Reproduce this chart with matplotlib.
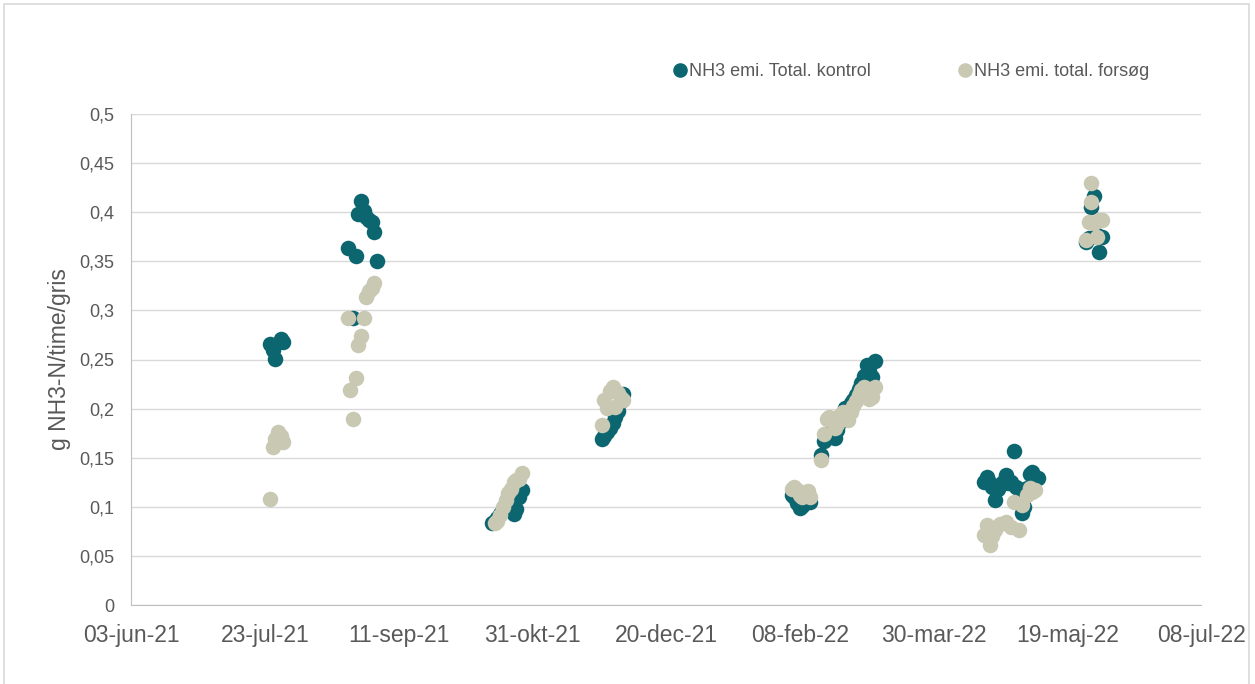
"""
NH3 emission scatter chart: kontrol vs forsøg
"""
import matplotlib
matplotlib.use("Agg")
import matplotlib.pyplot as plt
import matplotlib.dates as mdates
from matplotlib.patches import Rectangle
from matplotlib.lines import Line2D
import pandas as pd

plt.rcParams['font.family'] = ['Liberation Sans', 'DejaVu Sans']

# NH3 emi. Total. kontrol
kontrol_dates = [
    "2021-07-25", "2021-07-26", "2021-07-27", "2021-07-29", "2021-07-30",
    "2021-08-23", "2021-08-25", "2021-08-26", "2021-08-27", "2021-08-28", "2021-08-29",
    "2021-08-30", "2021-08-31", "2021-09-01", "2021-09-02", "2021-09-03",
    "2021-10-16", "2021-10-17", "2021-10-18", "2021-10-19", "2021-10-20", "2021-10-21",
    "2021-10-22", "2021-10-23", "2021-10-24", "2021-10-25", "2021-10-26", "2021-10-27",
    "2021-11-26", "2021-11-27", "2021-11-28", "2021-11-29", "2021-11-30", "2021-12-01",
    "2021-12-02", "2021-12-03", "2021-12-04",
    "2022-02-05", "2022-02-06", "2022-02-07", "2022-02-08", "2022-02-09", "2022-02-10",
    "2022-02-11", "2022-02-12",
    "2022-02-16", "2022-02-17", "2022-02-18", "2022-02-19", "2022-02-20", "2022-02-21",
    "2022-02-22", "2022-02-23", "2022-02-24", "2022-02-25", "2022-02-26", "2022-02-27",
    "2022-02-28", "2022-03-01", "2022-03-02", "2022-03-03", "2022-03-04", "2022-03-05",
    "2022-03-06", "2022-03-07", "2022-03-08",
    "2022-04-18", "2022-04-19", "2022-04-20", "2022-04-21", "2022-04-22", "2022-04-23",
    "2022-04-24", "2022-04-25", "2022-04-26", "2022-04-27", "2022-04-28", "2022-04-29",
    "2022-04-30", "2022-05-01", "2022-05-02", "2022-05-03", "2022-05-04", "2022-05-05",
    "2022-05-06", "2022-05-07", "2022-05-08",
    "2022-05-26", "2022-05-27", "2022-05-28", "2022-05-29", "2022-05-30", "2022-05-31",
    "2022-06-01",
]
kontrol_values = [
    0.266, 0.260, 0.251, 0.271, 0.268,
    0.364, 0.292, 0.355, 0.398, 0.411, 0.401,
    0.395, 0.392, 0.390, 0.380, 0.350,
    0.084, 0.086, 0.089, 0.093, 0.098, 0.104,
    0.110, 0.106, 0.093, 0.098, 0.110, 0.117,
    0.169, 0.172, 0.176, 0.180, 0.185, 0.191,
    0.198, 0.208, 0.215,
    0.112, 0.110, 0.104, 0.099, 0.101, 0.104,
    0.107, 0.105,
    0.153, 0.167, 0.172, 0.175, 0.171, 0.170,
    0.178, 0.186, 0.195, 0.201, 0.200, 0.206,
    0.209, 0.214, 0.220, 0.226, 0.233, 0.244,
    0.238, 0.232, 0.248,
    0.125, 0.130, 0.124, 0.120, 0.107, 0.118,
    0.122, 0.125, 0.132, 0.124, 0.125, 0.157,
    0.120, 0.118, 0.094, 0.100, 0.119, 0.133,
    0.135, 0.128, 0.129,
    0.370, 0.374, 0.405, 0.417, 0.377, 0.359,
    0.375,
]

# NH3 emi. total. forsøg
forsog_dates = [
    "2021-07-25", "2021-07-26", "2021-07-27", "2021-07-28", "2021-07-29", "2021-07-30",
    "2021-08-23", "2021-08-24", "2021-08-25", "2021-08-26", "2021-08-27", "2021-08-28",
    "2021-08-29", "2021-08-30", "2021-08-31", "2021-09-01", "2021-09-02",
    "2021-10-17", "2021-10-18", "2021-10-19", "2021-10-20", "2021-10-21", "2021-10-22",
    "2021-10-23", "2021-10-24", "2021-10-25", "2021-10-26", "2021-10-27",
    "2021-11-26", "2021-11-27", "2021-11-28", "2021-11-29", "2021-11-30", "2021-12-01",
    "2021-12-02", "2021-12-03", "2021-12-04",
    "2022-02-05", "2022-02-06", "2022-02-07", "2022-02-08", "2022-02-09", "2022-02-10",
    "2022-02-11", "2022-02-12",
    "2022-02-16", "2022-02-17", "2022-02-18", "2022-02-19", "2022-02-20", "2022-02-21",
    "2022-02-22", "2022-02-23", "2022-02-24", "2022-02-25", "2022-02-26", "2022-02-27",
    "2022-02-28", "2022-03-01", "2022-03-02", "2022-03-03", "2022-03-04", "2022-03-05",
    "2022-03-06", "2022-03-07", "2022-03-08",
    "2022-04-18", "2022-04-19", "2022-04-20", "2022-04-21", "2022-04-22", "2022-04-24",
    "2022-04-26", "2022-04-28", "2022-04-29", "2022-05-01", "2022-05-02", "2022-05-04",
    "2022-05-05", "2022-05-06", "2022-05-07",
    "2022-05-26", "2022-05-27", "2022-05-28", "2022-05-28", "2022-05-29", "2022-05-30",
    "2022-05-31", "2022-06-01",
]
forsog_values = [
    0.108, 0.161, 0.169, 0.176, 0.172, 0.166,
    0.292, 0.219, 0.189, 0.231, 0.265, 0.274,
    0.292, 0.314, 0.320, 0.323, 0.328,
    0.084, 0.086, 0.092, 0.100, 0.107, 0.114,
    0.118, 0.125, 0.127, 0.128, 0.134,
    0.183, 0.209, 0.201, 0.218, 0.222, 0.202,
    0.216, 0.211, 0.209,
    0.118, 0.120, 0.117, 0.112, 0.110, 0.115,
    0.116, 0.110,
    0.148, 0.174, 0.189, 0.191, 0.188, 0.180,
    0.184, 0.193, 0.197, 0.191, 0.188, 0.197,
    0.203, 0.208, 0.214, 0.219, 0.222, 0.215,
    0.210, 0.212, 0.222,
    0.071, 0.081, 0.061, 0.070, 0.076, 0.082,
    0.085, 0.079, 0.105, 0.076, 0.102, 0.112,
    0.119, 0.115, 0.117,
    0.372, 0.390, 0.410, 0.430, 0.389, 0.375,
    0.392, 0.392,
]

x_ticks = ["2021-06-03", "2021-07-23", "2021-09-11", "2021-10-31", "2021-12-20",
           "2022-02-08", "2022-03-30", "2022-05-19", "2022-07-08"]
x_labels = ["03-jun-21", "23-jul-21", "11-sep-21", "31-okt-21", "20-dec-21",
            "08-feb-22", "30-mar-22", "19-maj-22", "08-jul-22"]
y_ticks = [0, 0.05, 0.1, 0.15, 0.2, 0.25, 0.3, 0.35, 0.4, 0.45, 0.5]

teal = "#0B6670"
beige = "#C9C8B3"
grey_txt = "#595959"
grid_col = "#D9D9D9"

fig = plt.figure(figsize=(12.55, 6.84), dpi=100)
ax = fig.add_axes([131 / 1255, 1 - 605 / 684, 1070 / 1255, 491 / 684])

ax.scatter(pd.to_datetime(kontrol_dates), kontrol_values, s=125, color=teal,
           linewidths=0, zorder=3)
ax.scatter(pd.to_datetime(forsog_dates), forsog_values, s=125, color=beige,
           linewidths=0, zorder=4)

ticks = mdates.date2num(pd.to_datetime(x_ticks))
ax.set_xlim(ticks[0], ticks[-1])
ax.set_xticks(ticks)
ax.set_xticklabels(x_labels, fontsize=16.5, color=grey_txt)
ax.set_ylim(0, 0.5)
ax.set_yticks(y_ticks)
ax.set_yticklabels([("%g" % v).replace(".", ",") for v in y_ticks],
                   fontsize=13, color=grey_txt)
ax.tick_params(axis="both", length=0)
ax.tick_params(axis="x", pad=14)
ax.tick_params(axis="y", pad=12)
ax.set_ylabel("g NH3-N/time/gris", fontsize=16.5, color=grey_txt, labelpad=6)

ax.grid(axis="y", color=grid_col, linewidth=1)
ax.set_axisbelow(True)
for side in ["top", "right"]:
    ax.spines[side].set_visible(False)
for side in ["left", "bottom"]:
    ax.spines[side].set_color("#BFBFBF")

handles = [
    Line2D([], [], marker="o", linestyle="", markersize=9.5, color=teal,
           label="NH3 emi. Total. kontrol"),
    Line2D([], [], marker="o", linestyle="", markersize=9.5, color=beige,
           label="NH3 emi. total. forsøg"),
]
fig.legend(handles=handles, loc="center left", bbox_to_anchor=(0.536, 0.895),
           ncol=2, frameon=False, handlelength=0.8, handletextpad=0.1,
           columnspacing=4.8, fontsize=13, labelcolor=grey_txt,
           borderpad=0, borderaxespad=0)

fig.patches.append(Rectangle((4 / 1255, -0.01), 1245 / 1255, 1.0 - 4 / 684 + 0.01,
                             transform=fig.transFigure, fill=False,
                             edgecolor=grid_col, linewidth=1.2))

fig.savefig("out.png", dpi=100)
